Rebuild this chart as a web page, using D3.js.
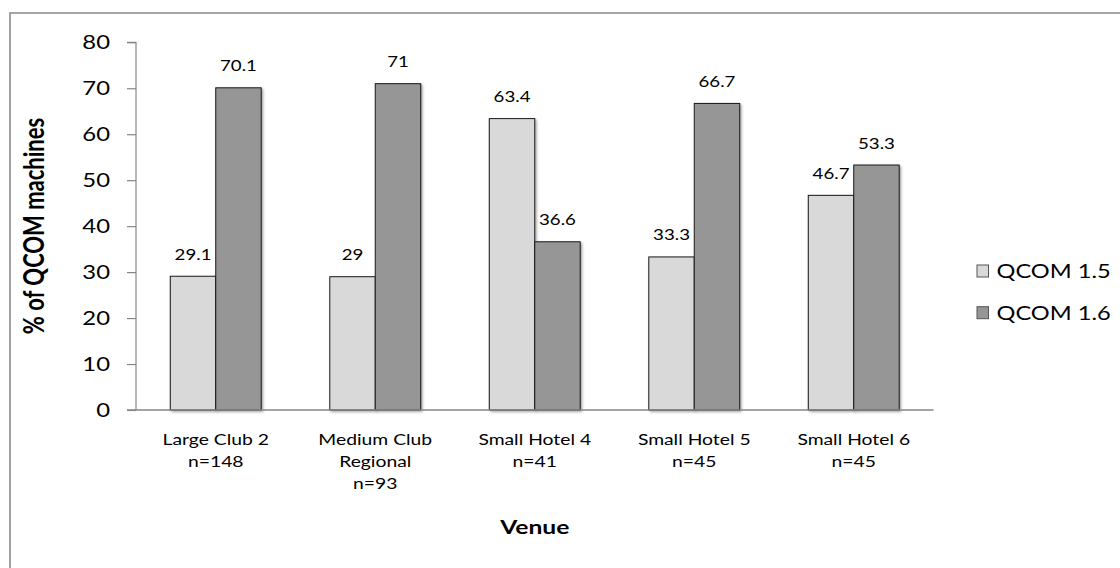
<!DOCTYPE html>
<html>
<head>
<meta charset="utf-8">
<script src="https://cdn.jsdelivr.net/npm/d3@7"></script>
<style>
  html, body { margin: 0; padding: 0; background: #fff; }
  svg { display: block; }
  text { font-family: Lato, "Open Sans", sans-serif; fill: #000; }
</style>
</head>
<body>
<svg id="chart" width="1120" height="568"></svg>
<script>
// Venue categories (each label split into lines)
const venues = [
  ["Large Club 2", "n=148"],
  ["Medium Club", "Regional", "n=93"],
  ["Small Hotel 4", "n=41"],
  ["Small Hotel 5", "n=45"],
  ["Small Hotel 6", "n=45"]
];
const seriesNames = ["QCOM 1.5", "QCOM 1.6"];
const qcom15 = [29.1, 29, 63.4, 33.3, 46.7];
const qcom16 = [70.1, 71, 36.6, 66.7, 53.3];
const yTicks = [0, 10, 20, 30, 40, 50, 60, 70, 80];

const fills = ["#d9d9d9", "#969696"];
const SX = 1.27; // horizontal text stretch

const svg = d3.select("#chart");

// outer frame (top and left edges visible)
svg.append("path")
  .attr("d", "M10,568 L10,13 L1120,13")
  .attr("fill", "none")
  .attr("stroke", "#8a8a8a")
  .attr("stroke-width", 1.6);

const defs = svg.append("defs");
const f = defs.append("filter").attr("id", "shadow")
  .attr("x", "-20%").attr("y", "-20%").attr("width", "140%").attr("height", "140%");
f.append("feDropShadow").attr("dx", 1.5).attr("dy", 1.5)
  .attr("stdDeviation", 1.3).attr("flood-color", "#000").attr("flood-opacity", 0.35);

const x0 = d3.scaleBand()
  .domain(d3.range(venues.length))
  .range([136, 933.5])
  .paddingInner(0.43)
  .paddingOuter(0.215);
const x1 = d3.scaleBand()
  .domain([0, 1])
  .range([0, x0.bandwidth()]);
const y = d3.scaleLinear().domain([0, 80]).range([410, 42.3]);

// helper: horizontally stretched text
function stext(g, x, yy, str, size, opts = {}) {
  const t = g.append("text")
    .attr("transform", `translate(${x},${yy}) scale(${SX},1)` + (opts.rotate ? ` rotate(${opts.rotate})` : ""))
    .attr("font-size", size)
    .attr("text-anchor", opts.anchor || "middle")
    .text(str);
  if (opts.bold) t.attr("font-weight", "bold");
  return t;
}

// y axis
const yAxis = d3.axisLeft(y).tickValues(yTicks).tickSize(9).tickFormat("");
const yg = svg.append("g").attr("transform", "translate(136,0)").call(yAxis);
yg.selectAll("path, line").attr("stroke", "#868686").attr("stroke-width", 1.2);
yg.select(".domain").attr("d", `M-9,${y(80)}H0V${y(0)}`);
yTicks.forEach(v => stext(svg, 110, y(v) + 6.5, String(v), 18.8, { anchor: "end" }));

// bars
const data = venues.map((v, i) => [qcom15[i], qcom16[i]]);
const groups = svg.selectAll("g.grp").data(data).join("g")
  .attr("class", "grp")
  .attr("transform", (d, i) => `translate(${x0(i)},0)`);
groups.selectAll("rect").data(d => d).join("rect")
  .attr("x", (d, j) => x1(j))
  .attr("y", d => y(d))
  .attr("width", x1.bandwidth())
  .attr("height", d => y(0) - y(d))
  .attr("fill", (d, j) => fills[j])
  .attr("stroke", "#1a1a1a")
  .attr("stroke-width", 1)
  .attr("filter", "url(#shadow)");

// x axis line
svg.append("line")
  .attr("x1", 127).attr("x2", 933.5)
  .attr("y1", y(0)).attr("y2", y(0))
  .attr("stroke", "#868686").attr("stroke-width", 1.6);

// value labels
data.forEach((d, i) => {
  d.forEach((v, j) => {
    stext(svg, x0(i) + x1(j) + x1.bandwidth() / 2, y(v) - 16.5, String(v), 14.7);
  });
});

// category labels
venues.forEach((lines, i) => {
  const cx = x0(i) + x0.bandwidth() / 2;
  lines.forEach((ln, k) => stext(svg, cx, 445 + k * 22, ln, 15.2));
});

// axis titles
stext(svg, 534.75, 534, "Venue", 19.4, { bold: true });
stext(svg, 44, 226, "% of QCOM machines", 22, { bold: true, rotate: -90 });

// legend
seriesNames.forEach((name, j) => {
  const ly = 265 + j * 41.7;
  svg.append("rect")
    .attr("x", 977).attr("y", ly)
    .attr("width", 11.5).attr("height", 12)
    .attr("fill", fills[j])
    .attr("stroke", "#555").attr("stroke-width", 1);
  stext(svg, 996.5, ly + 13, name, 18.6, { anchor: "start" });
});
</script>
</body>
</html>
